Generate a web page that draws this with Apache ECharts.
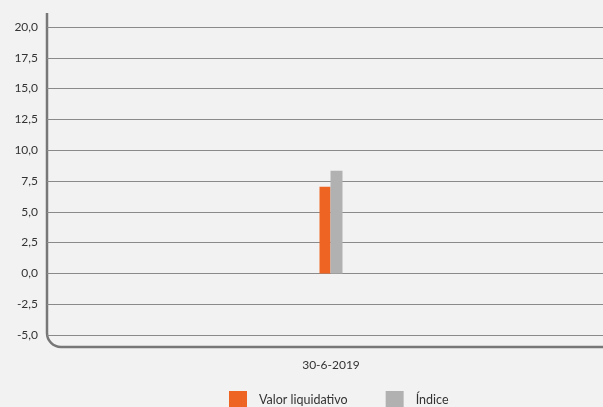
<!DOCTYPE html>
<html><head><meta charset="utf-8">
<script src="https://cdn.jsdelivr.net/npm/echarts@6/dist/echarts.min.js"></script>
<style>html,body{margin:0;padding:0;background:#f2f2f2;overflow:hidden;}#c{width:615px;height:407px;}</style>
</head><body><div id="c"></div>
<script>
const categories = ['30-6-2019'];
const valorLiquidativo = [7.03];
const indice = [8.33];
const seriesNames = ['Valor liquidativo', 'Índice'];

const chart = echarts.init(document.getElementById('c'));
const font = 'Lato, "Open Sans", sans-serif';
const frame = { stroke: '#777', lineWidth: 2.5, fill: 'none' };
chart.setOption({
  backgroundColor: '#f2f2f2',
  animation: false,
  grid: { left: 47, right: 0, top: 27, height: 308 },
  xAxis: {
    type: 'category', data: categories,
    axisLine: { show: false }, axisTick: { show: false },
    axisLabel: { color: '#333', fontSize: 12, fontFamily: font, margin: 24 }
  },
  yAxis: {
    type: 'value', min: -5, max: 20, interval: 2.5,
    axisLine: { show: false }, axisTick: { show: false },
    splitLine: { lineStyle: { color: '#8a8a8a', width: 1 } },
    axisLabel: { color: '#333', fontSize: 12, fontFamily: font, margin: 9,
      formatter: v => v.toFixed(1).replace('.', ',') }
  },
  legend: {
    top: 391, left: 229, itemWidth: 18, itemHeight: 18, itemGap: 38,
    icon: 'rect', padding: 0,
    textStyle: { color: '#333', fontSize: 12.5, fontFamily: font, padding: [0,0,0,7] },
    data: seriesNames
  },
  series: [
    { name: seriesNames[0], type: 'bar', data: valorLiquidativo, barWidth: 11, barGap: '0%',
      itemStyle: { color: '#ee6422' } },
    { name: seriesNames[1], type: 'bar', data: indice, barWidth: 12, barGap: '0%',
      itemStyle: { color: '#b1b1b1' } }
  ],
  graphic: [
    { type: 'line', silent: true, shape: { x1: 47, y1: 13, x2: 47, y2: 333 }, style: frame },
    { type: 'arc', silent: true, shape: { cx: 61, cy: 333, r: 14, startAngle: Math.PI / 2, endAngle: Math.PI, clockwise: true }, style: frame },
    { type: 'line', silent: true, shape: { x1: 61, y1: 347, x2: 615, y2: 347 }, style: frame }
  ]
});
</script></body></html>
